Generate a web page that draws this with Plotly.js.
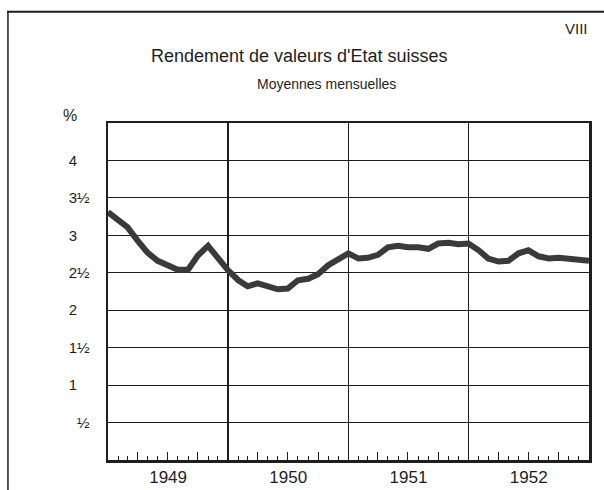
<!DOCTYPE html>
<html>
<head>
<meta charset="utf-8">
<script src="https://cdn.plot.ly/plotly-3.0.1.min.js"></script>
<style>
  html, body { margin: 0; padding: 0; background: #fff; }
  #chart { width: 604px; height: 490px; }
</style>
</head>
<body>
<div id="chart"></div>
<script>
// Yield of Swiss government bonds, monthly averages (%)
const years = [1949, 1950, 1951, 1952];
const yield1949 = [3.31, 3.20, 3.11, 2.93, 2.77, 2.66, 2.61, 2.54, 2.54, 2.73, 2.86, 2.69];
const yield1950 = [2.53, 2.40, 2.32, 2.36, 2.32, 2.28, 2.29, 2.40, 2.42, 2.48, 2.60, 2.69];
const yield1951 = [2.76, 2.69, 2.70, 2.74, 2.84, 2.86, 2.84, 2.84, 2.82, 2.89, 2.90, 2.88];
const yield1952 = [2.89, 2.80, 2.69, 2.65, 2.66, 2.76, 2.80, 2.72, 2.69, 2.70, 2.69, 2.68];
const yieldJan1953 = [2.66];
const yTickVals = [0.5, 1, 1.5, 2, 2.5, 3, 3.5, 4];
const yTickText = ['½', '1\u00A0\u00A0\u00A0', '1½', '2\u00A0\u00A0\u00A0', '2½', '3\u00A0\u00A0\u00A0', '3½', '4\u00A0\u00A0\u00A0'];
const titleText = 'Rendement de valeurs d\'Etat suisses';
const subtitleText = 'Moyennes mensuelles';
const plateText = 'VIII';

const perYear = [yield1949, yield1950, yield1951, yield1952];
const xs = [], ys = [];
years.forEach((yr, k) => {
  perYear[k].forEach((v, m) => {
    xs.push(yr + '-' + String(m + 1).padStart(2, '0') + '-01');
    ys.push(v);
  });
});
xs.push('1953-01-01'); ys.push(yieldJan1953[0]);

const ink = '#1e1e1e';
const font = 'Liberation Sans, Arial, sans-serif';

const traces = [
  { x: xs, y: ys, xaxis: 'x2', yaxis: 'y', mode: 'lines', line: { width: 0 }, hoverinfo: 'skip', showlegend: false },
  { x: xs, y: ys, xaxis: 'x', yaxis: 'y', mode: 'lines',
    line: { color: '#3a3a3a', width: 6, shape: 'linear' }, hoverinfo: 'skip', showlegend: false }
];

const layout = {
  width: 604, height: 490,
  margin: { l: 108, r: 15, t: 123, b: 30 },
  paper_bgcolor: '#fff', plot_bgcolor: '#fff',
  font: { family: font, color: ink },
  showlegend: false,
  xaxis: {
    type: 'date',
    range: ['1949-01-01', '1953-01-01'],
    dtick: 'M12', tick0: '1949-01-01',
    ticklabelmode: 'period',
    tickformat: '%Y',
    ticks: '', showgrid: true, gridcolor: ink, gridwidth: 1.5,
    showline: true, linecolor: ink, linewidth: 2.5, mirror: true,
    tickfont: { size: 17, family: font, color: ink },
    minor: { dtick: 'M1', ticks: 'inside', ticklen: 4, tickcolor: ink, tickwidth: 1, showgrid: false },
    zeroline: false, fixedrange: true
  },
  xaxis2: {
    type: 'date', overlaying: 'x', matches: 'x', side: 'bottom',
    dtick: 'M3', tick0: '1949-01-01',
    ticks: 'inside', ticklen: 8, tickcolor: ink, tickwidth: 1,
    showticklabels: false, showgrid: false, showline: false, zeroline: false
  },
  yaxis: {
    range: [0, 4.5],
    tickmode: 'array', tickvals: yTickVals, ticktext: yTickText,
    ticks: '', ticklabelstandoff: 13,
    showgrid: true, gridcolor: ink, gridwidth: 1,
    showline: true, linecolor: ink, linewidth: 2.5, mirror: true,
    tickfont: { size: 15, family: font, color: ink },
    zeroline: false, fixedrange: true
  },
  annotations: [
    { text: titleText, xref: 'paper', yref: 'paper', x: 0.399, y: 1.199, xanchor: 'center', yanchor: 'middle',
      showarrow: false, font: { size: 18, family: font, color: ink } },
    { text: subtitleText, xref: 'paper', yref: 'paper', x: 0.455, y: 1.115, xanchor: 'center', yanchor: 'middle',
      showarrow: false, font: { size: 14, family: font, color: ink } },
    { text: plateText, xref: 'paper', yref: 'paper', x: 1.002, y: 1.28, xanchor: 'right', yanchor: 'middle',
      showarrow: false, font: { size: 15, family: font, color: ink } },
    { text: '%', xref: 'paper', yref: 'y', x: -0.06, y: 4.5, yshift: 8, xanchor: 'right', yanchor: 'middle',
      showarrow: false, font: { size: 16, family: font, color: ink } }
  ],
  shapes: [
    { type: 'line', xref: 'paper', yref: 'paper', x0: -0.21, x1: 1.04, y0: 1.33, y1: 1.33, line: { color: ink, width: 2 } },
    { type: 'line', xref: 'paper', yref: 'paper', x0: -0.208, x1: -0.208, y0: 1.33, y1: -0.1, line: { color: ink, width: 1.5 } }
  ]
};

Plotly.newPlot('chart', traces, layout, { displayModeBar: false, staticPlot: true });
</script>
</body>
</html>
